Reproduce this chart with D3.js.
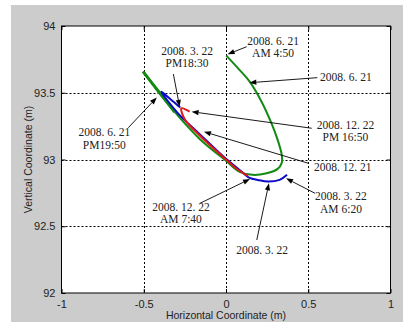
<!DOCTYPE html>
<html><head><meta charset="utf-8">
<script src="https://cdnjs.cloudflare.com/ajax/libs/d3/7.8.5/d3.min.js"></script>
<style>body{margin:0;background:#fff;}svg{display:block;}</style>
</head><body><svg id="c" width="403" height="323"></svg>
<script>
// ---- data ----
const xTicks = [-1, -0.5, 0, 0.5, 1];
const yTicks = [92, 92.5, 93, 93.5, 94];
const xTickLabels = ["-1", "-0.5", "0", "0.5", "1"];
const yTickLabels = ["92", "92.5", "93", "93.5", "94"];

// 2008.6.21 (green)
const greenX = [0.002, 0.083, 0.144, 0.217, 0.276, 0.314, 0.339, 0.339, 0.314, 0.247, 0.162, 0.083, 0.000, -0.160, -0.312, -0.403, -0.504];
const greenY = [93.778, 93.67, 93.583, 93.431, 93.272, 93.147, 93.034, 92.975, 92.93, 92.897, 92.885, 92.907, 92.99, 93.154, 93.356, 93.498, 93.658];
// 2008.3.22 (blue)
const blueX = [0.371, 0.326, 0.255, 0.193, 0.144, 0.083, 0.000, -0.160, -0.293, -0.393, -0.336, -0.278];
const blueY = [92.885, 92.847, 92.835, 92.847, 92.862, 92.922, 93.005, 93.19, 93.348, 93.508, 93.45, 93.389];
// 2008.12.22 (red)
const redX = [0.133, 0.060, 0.000, -0.160, -0.250, -0.271, -0.221];
const redY = [92.877, 92.935, 93.0, 93.18, 93.30, 93.384, 93.359];

// annotations: text lines, label centre, arrow tail, arrow head (data units)
const annLines = [
  ["2008. 3. 22", "PM18:30"],
  ["2008. 6. 21", "AM 4:50"],
  ["2008. 6. 21"],
  ["2008. 12. 22", "PM 16:50"],
  ["2008. 12. 21"],
  ["2008. 3. 22", "AM 6:20"],
  ["2008. 3. 22"],
  ["2008. 12. 22", "AM 7:40"],
  ["2008. 6. 21", "PM19:50"]
];
const annLabelX = [-0.237, 0.286, 0.729, 0.726, 0.709, 0.699, 0.219, -0.274, -0.740];
const annLabelY = [93.768, 93.843, 93.616, 93.213, 92.942, 92.678, 92.322, 92.599, 93.159];
const annTailX = [-0.320, 0.126, 0.555, 0.521, 0.500, 0.541, 0.187, -0.158, -0.594];
const annTailY = [93.640, 93.845, 93.613, 93.234, 92.972, 92.747, 92.397, 92.672, 93.238];
const annHeadX = [-0.282, 0.010, 0.142, -0.209, -0.134, 0.365, 0.261, 0.146, -0.421];
const annHeadY = [93.395, 93.788, 93.575, 93.358, 93.208, 92.859, 92.822, 92.854, 93.464];

// ---- drawing ----
const svg = d3.select("#c");
svg.append("rect").attr("x", 11).attr("y", 5).attr("width", 392).attr("height", 317).attr("fill", "#cccccc");

const L = 61.5, R = 390.5, T = 26, B = 293;
const x = d3.scaleLinear().domain([-1, 1]).range([L, R]);
const y = d3.scaleLinear().domain([92, 94]).range([B, T]);

svg.append("rect").attr("x", L).attr("y", T).attr("width", R - L).attr("height", B - T).attr("fill", "#fff");

// grid
const grid = svg.append("g").attr("stroke", "#000").attr("stroke-width", 1).attr("stroke-dasharray", "2,2");
xTicks.slice(1, -1).forEach(v => grid.append("line").attr("x1", Math.round(x(v)) + 0.5).attr("x2", Math.round(x(v)) + 0.5).attr("y1", T).attr("y2", B));
yTicks.slice(1, -1).forEach(v => grid.append("line").attr("y1", Math.round(y(v)) + 0.5).attr("y2", Math.round(y(v)) + 0.5).attr("x1", L).attr("x2", R));

// axes (ticks inward)
const fmtX = (d, i) => xTickLabels[i];
const fmtY = (d, i) => yTickLabels[i];
const axB = svg.append("g").attr("transform", `translate(0,${B})`)
  .call(d3.axisBottom(x).tickValues(xTicks).tickFormat(fmtX).tickSizeInner(-4).tickSizeOuter(0).tickPadding(7));
const axL = svg.append("g").attr("transform", `translate(${L},0)`)
  .call(d3.axisLeft(y).tickValues(yTicks).tickFormat(fmtY).tickSizeInner(-4).tickSizeOuter(0).tickPadding(6));
const axT = svg.append("g").attr("transform", `translate(0,${T})`)
  .call(d3.axisTop(x).tickValues(xTicks).tickFormat("").tickSizeInner(-4).tickSizeOuter(0));
const axR = svg.append("g").attr("transform", `translate(${R},0)`)
  .call(d3.axisRight(y).tickValues(yTicks).tickFormat("").tickSizeInner(-4).tickSizeOuter(0));
[axB, axL, axT, axR].forEach(a => {
  a.select(".domain").remove();
  a.selectAll("text").attr("font-family", "Liberation Sans, Arial, sans-serif").attr("font-size", 11).attr("fill", "#222");
});
svg.append("rect").attr("x", L).attr("y", T).attr("width", R - L).attr("height", B - T)
  .attr("fill", "none").attr("stroke", "#000").attr("stroke-width", 1);

// curves
const line = d3.line().x(d => x(d[0])).y(d => y(d[1])).curve(d3.curveCatmullRom.alpha(0.5));
const mk = (xs, ys) => xs.map((v, i) => [v, ys[i]]);
svg.append("path").datum(mk(greenX, greenY)).attr("d", line).attr("fill", "none").attr("stroke", "#138a13").attr("stroke-width", 2);
// thicker overplotted start of the green track (top-left)
svg.append("path").datum(mk(greenX.slice(-3), greenY.slice(-3))).attr("d", line).attr("fill", "none").attr("stroke", "#138a13").attr("stroke-width", 3);
svg.append("path").datum(mk(blueX, blueY)).attr("d", line).attr("fill", "none").attr("stroke", "#0a0ac8").attr("stroke-width", 2);
svg.append("path").datum(mk(redX, redY)).attr("d", line).attr("fill", "none").attr("stroke", "#e01818").attr("stroke-width", 2);

// annotations
const ag = svg.append("g");
annLines.forEach((lines, i) => {
  const tx = x(annTailX[i]), ty = y(annTailY[i]);
  const hx = x(annHeadX[i]), hy = y(annHeadY[i]);
  const ang = Math.atan2(hy - ty, hx - tx);
  const hl = 7, hw = 2.6;
  const bx = hx - hl * Math.cos(ang), by = hy - hl * Math.sin(ang);
  ag.append("line").attr("x1", tx).attr("y1", ty).attr("x2", bx).attr("y2", by).attr("stroke", "#000").attr("stroke-width", 0.9);
  const px = -Math.sin(ang), py = Math.cos(ang);
  ag.append("path").attr("d", `M${hx},${hy}L${bx + px * hw},${by + py * hw}L${bx - px * hw},${by - py * hw}Z`).attr("fill", "#000");
  const cx = x(annLabelX[i]), cy = y(annLabelY[i]);
  const n = lines.length, lh = 12.5;
  lines.forEach((s, j) => {
    ag.append("text").attr("x", cx).attr("y", cy + (j - (n - 1) / 2) * lh).attr("dy", "0.35em")
      .attr("text-anchor", "middle").attr("font-family", "Liberation Serif, Times New Roman, serif")
      .attr("font-size", 11.5).attr("fill", "#222").text(s);
  });
});

// axis titles
svg.append("text").attr("x", x(0)).attr("y", 315).attr("dy", "0.35em").attr("text-anchor", "middle")
  .attr("font-family", "Liberation Sans, Arial, sans-serif").attr("font-size", 10.5).attr("fill", "#222").text("Horizontal Coordinate (m)");
svg.append("text").attr("transform", `translate(28,${(T + B) / 2}) rotate(-90)`).attr("dy", "0.35em").attr("text-anchor", "middle")
  .attr("font-family", "Liberation Sans, Arial, sans-serif").attr("font-size", 10.5).attr("fill", "#222").text("Vertical Coordinate (m)");
</script></body></html>
